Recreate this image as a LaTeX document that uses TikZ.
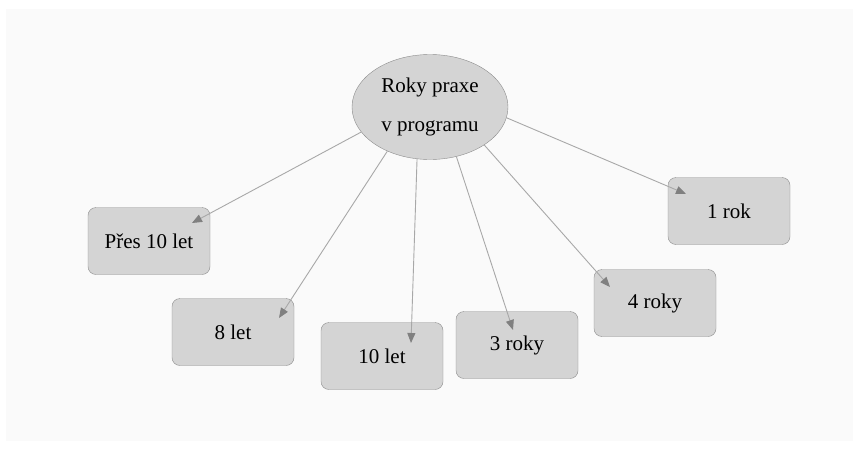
\documentclass[tikz,border=0pt]{standalone}
\usepackage{fontspec}
\setmainfont{Liberation Serif}
\usepackage{tikz}
\usetikzlibrary{shapes.geometric}
\usetikzlibrary{arrows.meta}
\definecolor{boxfill}{RGB}{212,212,212}
\definecolor{boxline}{RGB}{140,140,140}
\definecolor{linkline}{RGB}{168,168,168}
\definecolor{tipfill}{RGB}{128,128,128}
\definecolor{pagebg}{RGB}{250,250,250}
\tikzstyle{yearbox}=[draw=boxline, fill=boxfill, rounded corners=8pt, minimum width=122pt, minimum height=67pt, inner sep=0pt, font=\fontsize{21}{25}\selectfont]
\tikzstyle{topic}=[ellipse, draw=boxline, fill=boxfill, minimum width=156pt, minimum height=105pt, inner sep=0pt, align=center, font=\fontsize{21}{39}\selectfont]
\tikzstyle{link}=[draw=linkline, line width=0.9pt, -{Triangle[length=10pt,width=8pt,color=tipfill]}]

\begin{document}
\begin{tikzpicture}[x=1pt,y=-1pt]
\useasboundingbox (0,0) rectangle (859,450);
\fill[pagebg] (6,9) rectangle (853,441);
\node[topic] (roky) at (430,107) {Roky praxe\\v programu};
\node[yearbox] (pres) at (149,241) {Přes 10 let};
\node[yearbox] (osm) at (233,332) {8 let};
\node[yearbox] (deset) at (382,356) {10 let};
\node[yearbox] (tri) at (517,345) {3 roky};
\node[yearbox] (ctyri) at (655,303) {4 roky};
\node[yearbox] (jeden) at (729,211) {1 rok};
\coordinate (tpres) at (192,223);
\coordinate (tosm) at (279,318);
\coordinate (tdeset) at (411,343);
\coordinate (ttri) at (513,330);
\coordinate (tctyri) at (610,287);
\coordinate (tjeden) at (686,194);
\draw[link] (roky.200) -- (tpres);
\draw[link] (roky.226) -- (tosm);
\draw[link] (roky.256) -- (tdeset);
\draw[link] (roky.298) -- (ttri);
\draw[link] (roky.325) -- (tctyri);
\draw[link] (roky.352) -- (tjeden);
\end{tikzpicture}
\end{document}
